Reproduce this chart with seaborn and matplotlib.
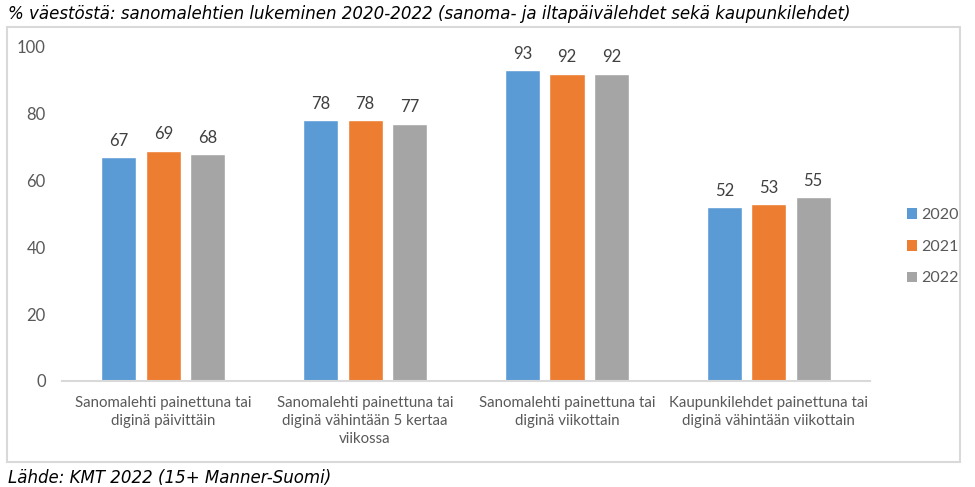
import pandas as pd
import seaborn as sns
import matplotlib.pyplot as plt
from matplotlib.patches import Rectangle, Patch

# chart data
categories = [
    "Sanomalehti painettuna tai\ndiginä päivittäin",
    "Sanomalehti painettuna tai\ndiginä vähintään 5 kertaa\nviikossa",
    "Sanomalehti painettuna tai\ndiginä viikottain",
    "Kaupunkilehdet painettuna tai\ndiginä vähintään viikottain",
]
years = ["2020", "2021", "2022"]
values_2020 = [67, 78, 93, 52]
values_2021 = [69, 78, 92, 53]
values_2022 = [68, 77, 92, 55]
y_ticks = [0, 20, 40, 60, 80, 100]

colors = ["#5B9BD5", "#ED7D31", "#A5A5A5"]

df = pd.DataFrame({
    "Kategoria": categories * 3,
    "Vuosi": [y for y in years for _ in categories],
    "Arvo": values_2020 + values_2021 + values_2022,
})

sns.set_style("white")
plt.rcParams['font.family'] = ['Lato', 'DejaVu Sans']

fig = plt.figure(figsize=(9.75, 4.87), dpi=100)
ax = fig.add_axes([0.064, 0.2177, 0.828, 0.6858])

sns.barplot(data=df, x="Kategoria", y="Arvo", hue="Vuosi", palette=colors,
            width=0.66, gap=0.21, ax=ax, legend=False, saturation=1)

for cont in ax.containers:
    ax.bar_label(cont, fmt="%d", padding=6, fontsize=12, color="#404040")

ax.set_ylim(0, 100)
ax.set_yticks(y_ticks)
ax.set_xlim(-0.5, 3.5)
ax.set_xlabel("")
ax.set_ylabel("")
ax.tick_params(axis="y", labelsize=12, colors="#595959", length=0, pad=12)
ax.tick_params(axis="x", labelsize=10.8, colors="#595959", length=0, pad=11)
for lbl in ax.get_xticklabels():
    lbl.set_linespacing(1.35)
for s in ["left", "right", "top"]:
    ax.spines[s].set_visible(False)
ax.spines["bottom"].set_color("#D9D9D9")
ax.spines["bottom"].set_linewidth(1.5)

# legend on the right
handles = [Patch(facecolor=c, edgecolor="none") for c in colors]
fig.legend(handles, years, loc="center left", bbox_to_anchor=(0.915, 0.493),
           frameon=False, fontsize=11.5, labelcolor="#595959",
           handlelength=0.65, handleheight=0.65, labelspacing=1.1, handletextpad=0.25)

# outer chart frame
fig.add_artist(Rectangle((7 / 975, 1 - 462 / 487), 953 / 975, 435 / 487,
                         transform=fig.transFigure, fill=False,
                         edgecolor="#D9D9D9", linewidth=1.5))

fig.text(0.008, 0.972, "% väestöstä: sanomalehtien lukeminen 2020-2022 (sanoma- ja iltapäivälehdet sekä kaupunkilehdet)",
         fontsize=12, style="italic", color="black", va="center", family=['DejaVu Sans'])
fig.text(0.008, 0.018, "Lähde: KMT 2022 (15+ Manner-Suomi)",
         fontsize=12, style="italic", color="black", va="center", family=['DejaVu Sans'])

fig.savefig("out.png", dpi=100)
